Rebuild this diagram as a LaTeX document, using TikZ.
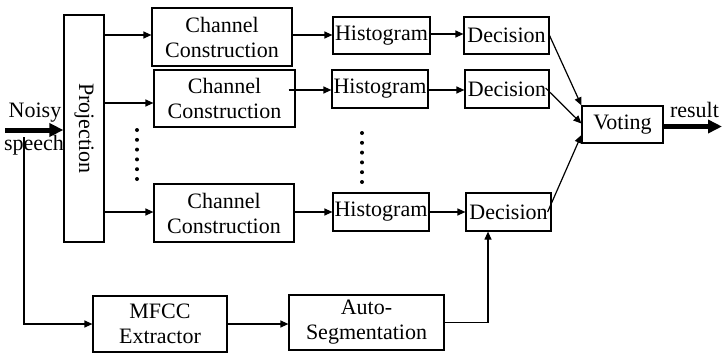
\documentclass[tikz,border=0pt]{standalone}
\usepackage{fontspec}
\setmainfont{Liberation Serif}
\usetikzlibrary{arrows.meta,calc}
\begin{document}
\begin{tikzpicture}[x=1pt,y=-1pt,
  box/.style={draw,line width=1.2pt,inner sep=0pt,align=center,font=\fontsize{22}{25}\selectfont},
  lbl/.style={inner sep=0pt,anchor=base,font=\fontsize{22}{25}\selectfont},
  arr/.style={line width=1.2pt,-{Triangle[length=8pt,width=7pt]}},
  ln/.style={line width=1.2pt},
  thick arr/.style={line width=5pt,-{Triangle[length=14pt,width=13pt]}},
  dot/.style={fill=black}]
\useasboundingbox (0,0) rectangle (722,353);
% boxes
\node[box,minimum width=40pt,minimum height=227pt] (proj) at (84,128.5) {};
\node[rotate=-90,inner sep=0pt,font=\fontsize{22}{25}\selectfont] (projt) at (84,128.5) {Projection};
\node[box,minimum width=140pt,minimum height=58pt] (cc1) at (222,37) {Channel\\Construction};
\node[box,minimum width=141pt,minimum height=57pt] (cc2) at (224.5,98.5) {Channel\\Construction};
\node[box,minimum width=140pt,minimum height=58pt] (cc3) at (224,213) {Channel\\Construction};
\node[box,minimum width=97pt,minimum height=37pt] (h1) at (381.5,35.5) {Histogram};
\node[box,minimum width=96pt,minimum height=38pt] (h2) at (380,89) {Histogram};
\node[box,minimum width=96pt,minimum height=38pt] (h3) at (381,212) {Histogram};
\node[box,minimum width=85pt,minimum height=37pt] (d1) at (506.5,35.5) {Decision};
\node[box,minimum width=84pt,minimum height=38pt] (d2) at (507,89) {Decision};
\node[box,minimum width=85pt,minimum height=38pt] (d3) at (508.5,212) {Decision};
\node[box,minimum width=81pt,minimum height=37pt] (vote) at (622.5,124.5) {Voting};
\node[box,minimum width=134pt,minimum height=56pt] (mfcc) at (160,324) {MFCC\\Extractor};
\node[box,minimum width=155pt,minimum height=55pt] (auto) at (366.5,322.5) {Auto-\\Segmentation};
% labels
\node[lbl] (noisy) at (35,117) {Noisy};
\node[lbl] (speech) at (34,150) {speech};
\node[lbl] (result) at (694.5,117) {result};
% coordinates
\coordinate (in) at (5,130);
\coordinate (out) at (722,126.5);
\coordinate (br) at (24,137);
% connectors
\draw[thick arr] (in) -- (proj.west |- in);
\draw[thick arr] (vote.east |- out) -- (out);
\draw[arr] (br) |- (mfcc.west);
\draw[arr] (proj.east |- 0,35) -- (cc1.west |- 0,35);
\draw[arr] (proj.east |- 0,103) -- (cc2.west |- 0,103);
\draw[arr] (proj.east |- 0,212) -- (cc3.west |- 0,212);
\draw[arr] (cc1.east |- 0,35) -- (h1.west |- 0,35);
\draw[arr] ([xshift=-7pt]cc2.east |- 0,90) -- (h2.west |- 0,90);
\draw[arr] (cc3.east |- 0,212) -- (h3.west |- 0,212);
\draw[arr] ([xshift=-2pt]h1.east |- 0,34) -- (d1.west |- 0,34);
\draw[arr] (h2.east |- 0,90) -- (d2.west |- 0,90);
\draw[arr] (h3.east |- 0,212) -- (d3.west |- 0,212);
\draw[arr] ([xshift=-1pt,yshift=2pt]d1.east) -- (vote.north west);
\draw[arr] ([xshift=-4pt,yshift=1pt]d2.east) -- ([yshift=1pt]vote.west);
\draw[arr] ([xshift=-4pt]d3.east) -- ([yshift=-10.5pt]vote.west);
\draw[arr] (mfcc.east) -- (auto.west |- mfcc.east);
\draw[arr] (auto.east) -| ([xshift=-20.5pt]d3.south);
% dots
\foreach \i in {0,...,5} {
  \fill[dot] (137,130+\i*9.8) circle (2pt);
  \fill[dot] (362,133+\i*9.8) circle (2pt);
}
\end{tikzpicture}
\end{document}
